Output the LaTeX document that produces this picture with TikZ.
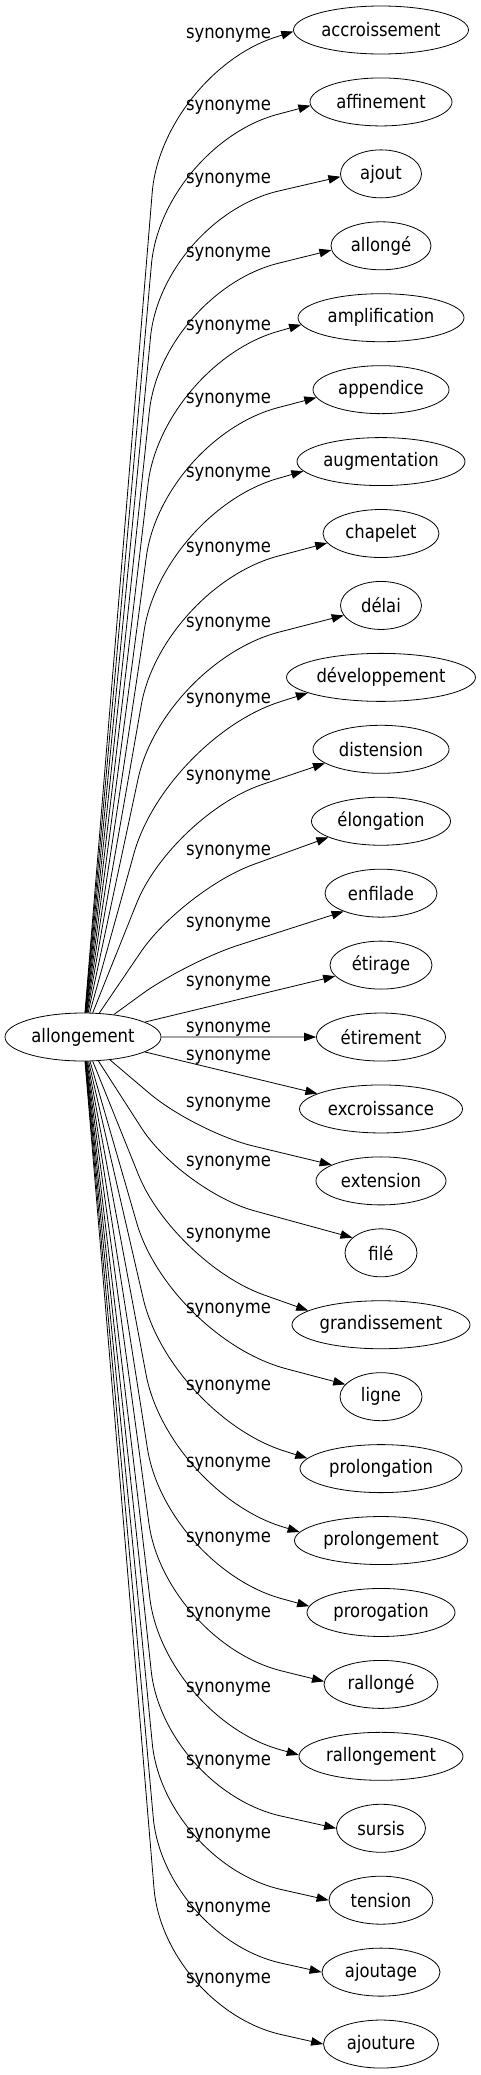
\documentclass[tikz,border=0pt]{standalone}
\usepackage{fontspec}
\setmainfont{DejaVu Sans}[FakeStretch=0.88]
\usetikzlibrary{shapes.geometric,arrows.meta}
\begin{document}
\begin{tikzpicture}[x=1pt,y=-1pt,
  every node/.style={font=\fontsize{18.67}{22}\selectfont},
  term/.style={draw, ellipse, line width=0.8pt, minimum height=48pt, inner sep=0pt},
  lbl/.style={anchor=base, inner sep=0pt},
  edge/.style={draw, line width=0.8pt, -{Triangle[length=12pt,width=8.5pt]}}]
\useasboundingbox (0,0) rectangle (481,2075);
\node[term, minimum width=156pt] (allong) at (83,1037) {allongement};
\foreach \idx/\w/\txt in {0/175/accroissement, 1/142/affinement, 2/81/ajout, 3/100/allongé,
  4/166/amplification, 5/136/appendice, 6/168/augmentation, 7/116/chapelet, 8/81/délai,
  9/189/développement, 10/136/distension, 11/139/élongation, 12/112/enfilade, 13/102/étirage,
  14/129/étirement, 15/163/excroissance, 16/130/extension, 17/72/filé, 18/178/grandissement,
  19/82/ligne, 20/162/prolongation, 21/173/prolongement, 22/148/prorogation, 23/114/rallongé,
  24/164/rallongement, 25/89/sursis, 26/104/tension, 27/118/ajoutage, 28/115/ajouture}
  {\node[term, minimum width=\w pt] (t\idx) at (381,{30+71.93*\idx}) {\txt};}
\foreach \idx/\ly in {0/33,1/105,2/178,3/252,4/325,5/398,6/472,7/547,8/622,9/698,10/775,
  11/850,12/922,13/981,14/1027,15/1055,16/1102,17/1161,18/1233,19/1308,20/1385,21/1462,
  22/1537,23/1612,24/1687,25/1760,26/1833,27/1907,28/1978}
  {\node[lbl] (l\idx) at (228.5,{\ly+5}) {synonyme};}
\foreach \idx/\ly/\kx/\rr/\ang in {0/33/162/120/181, 1/105/162/120/183, 2/178/162/120/184,
  3/252/162/120/185, 4/325/162/120/185, 5/398/162/120/187, 6/472/162/120/187, 7/547/162/120/190,
  8/622/163/120/195, 9/698/166/120/192, 10/775/172/95/194, 11/850/183/75/197, 12/922/186/55/206}
  {\draw[edge, rounded corners=\rr pt] (allong) -- (\kx,{\ly+40}) -- (t\idx.\ang);}
\draw[edge] (allong) -- (t13);
\draw[edge] (allong) -- (t14);
\draw[edge] (allong) -- (t15);
\foreach \idx/\ly/\kx/\rr/\ang in {16/1102/195/60/162, 17/1161/182/75/152, 18/1233/174/95/169,
  19/1308/170/120/161, 20/1385/170/120/172, 21/1462/168/120/174, 22/1537/166/120/175,
  23/1612/165/120/177, 24/1687/164/120/179, 25/1760/164/120/180, 26/1833/164/120/180,
  27/1907/164/120/180, 28/1978/164/120/180}
  {\draw[edge, rounded corners=\rr pt] (allong) -- (\kx,{\ly+30}) -- (t\idx.\ang);}
\end{tikzpicture}
\end{document}
